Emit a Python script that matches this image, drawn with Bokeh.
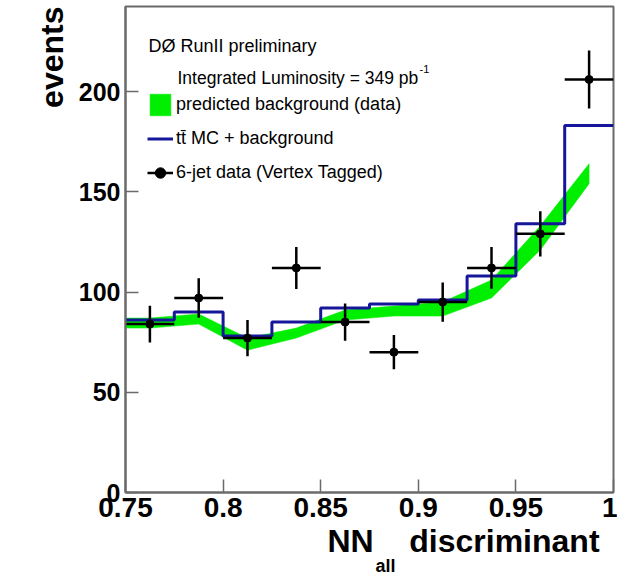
import math
from bokeh.plotting import figure
from bokeh.models import (Label, Legend, LegendItem, FixedTicker, Range1d, Title)
from bokeh.embed import file_html
from bokeh.resources import INLINE

# ---- data ----
bin_edges = [0.75, 0.775, 0.80, 0.825, 0.85, 0.875, 0.90, 0.925, 0.95, 0.975, 1.0]
data_counts = [84, 97, 77, 112, 85, 70, 95, 112, 129, 206]
data_errors = [9.2, 9.8, 9.0, 10.5, 9.3, 8.5, 9.8, 10.4, 11.3, 14.5]
mc_plus_bkg = [86, 90, 78, 85, 92, 94, 96, 108, 134, 183]
band_x = [0.75, 0.7625, 0.7875, 0.8125, 0.8375, 0.8625, 0.8875, 0.9125, 0.9375, 0.9625, 0.9875]
band_upper = [87, 87, 89, 77, 82, 91, 93, 95, 106, 133, 164]
band_lower = [82, 82, 84, 71, 77, 86, 88, 88, 97, 121, 154]
x_ticks = [0.75, 0.80, 0.85, 0.90, 0.95, 1.0]
x_tick_labels = ["0.75", "0.8", "0.85", "0.9", "0.95", "1"]
y_ticks = [0, 50, 100, 150, 200]

FONT = "Liberation Sans"
W, H = 617, 573
FL, FB = 125, 492  # frame left / bottom in page pixels

p = figure(width=W, height=H, output_backend="svg", toolbar_location=None,
           x_range=Range1d(0.75, 1.0), y_range=Range1d(0, 242.4),
           min_border_left=FL, min_border_right=4, min_border_top=6,
           min_border_bottom=H - FB)
p.background_fill_color = "white"
p.border_fill_color = "white"
p.grid.visible = False
p.outline_line_color = "#6a6a6a"
p.outline_line_width = 2

for ax in (p.xaxis[0], p.yaxis[0]):
    ax.axis_line_color = "#6a6a6a"
    ax.axis_line_width = 2
    ax.major_tick_in = 13
    ax.major_tick_out = 0
    ax.minor_tick_in = 0
    ax.minor_tick_out = 0
    ax.major_tick_line_color = "#6a6a6a"
    ax.major_tick_line_width = 1.5
    ax.major_label_text_font = FONT
    ax.major_label_text_font_style = "bold"
    ax.major_label_text_color = "black"

p.xaxis.ticker = FixedTicker(ticks=x_ticks)
p.xaxis.major_label_overrides = {t: s for t, s in zip(x_ticks, x_tick_labels)}
p.xaxis.major_label_text_font_size = "28px"
p.xaxis.major_label_standoff = 5
p.yaxis.ticker = FixedTicker(ticks=y_ticks)
p.yaxis.major_label_text_font_size = "25px"
p.yaxis.major_label_standoff = 5

# axis titles (side panels, so they are not clipped by the frame)
t_x = Title(text="NN\u00a0\u00a0\u00a0\u00a0discriminant", align="left", offset=327 - FL,
            standoff=3, text_font=FONT, text_font_size="32px",
            text_font_style="bold", text_color="black")
p.add_layout(t_x, "below")
t_sub = Title(text="all", align="left", offset=375 - FL, standoff=-14,
              text_font=FONT, text_font_size="18px", text_font_style="bold",
              text_color="black")
p.add_layout(t_sub, "below")
t_y = Title(text="events", align="right", standoff=12, text_font=FONT,
            text_font_size="32px", text_font_style="bold", text_color="black")
p.add_layout(t_y, "left")

# green band
xs = band_x + band_x[::-1]
ys = band_upper + band_lower[::-1]
band = p.patch(xs, ys, fill_color="#00ee00", line_color="#00ee00", line_width=0.5)

# blue histogram
step = p.step(bin_edges, mc_plus_bkg + [mc_plus_bkg[-1]], mode="after",
              line_color="#16169a", line_width=3)

# data with error bars
lo = bin_edges[:-1]
hi = bin_edges[1:]
centers = [(a + b) / 2 for a, b in zip(lo, hi)]
hseg = p.segment(x0=lo, y0=data_counts, x1=hi, y1=data_counts,
                 line_color="black", line_width=2.5)
vseg = p.segment(x0=centers, y0=[c - e for c, e in zip(data_counts, data_errors)],
                 x1=centers, y1=[c + e for c, e in zip(data_counts, data_errors)],
                 line_color="black", line_width=2.5)
pts = p.scatter(centers, data_counts, size=8, fill_color="black", line_color="black")

legend = Legend(items=[
    LegendItem(label="predicted background (data)", renderers=[band]),
    LegendItem(label="t\u0074\u0304 MC + background", renderers=[step]),
    LegendItem(label="6-jet data (Vertex Tagged)", renderers=[hseg, pts]),
], location=(22, 306), glyph_width=26, glyph_height=27, spacing=7,
    padding=0, margin=0, border_line_color=None, background_fill_alpha=0,
    label_text_font=FONT, label_text_font_size="18px", label_standoff=3,
    label_text_color="black")
p.add_layout(legend, "center")


def lab(text, px, py, size, bold=False, align="left"):
    # px, py: page coordinates of the baseline anchor (screen units are frame-relative)
    l = Label(x=px - FL, y=FB - py, x_units="screen", y_units="screen",
              text=text, text_font=FONT, text_font_size=f"{size}px",
              text_font_style="bold" if bold else "normal",
              text_color="black", text_align=align, text_baseline="alphabetic")
    p.add_layout(l)


lab("D\u00d8  RunII preliminary", 148, 45, 18)
lab("Integrated Luminosity = 349 pb", 177, 77, 17.5)
lab("-1", 419, 68, 11)

open("out.html", "w").write(file_html(p, INLINE))
